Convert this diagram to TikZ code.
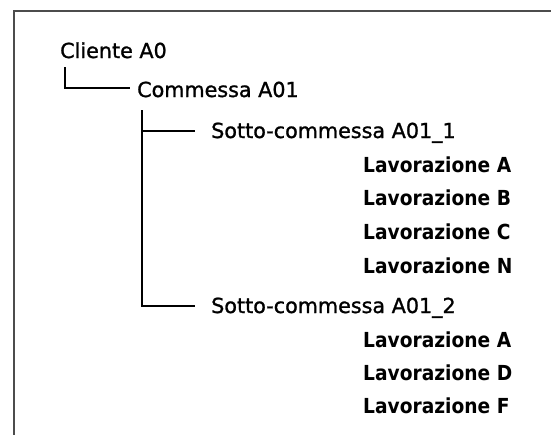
\documentclass[tikz,border=0pt]{standalone}
\usepackage{fontspec}
\setmainfont{DejaVu Sans}
\newfontfamily\treefont{DejaVu Sans}[FakeBold=1.2]
\newfontfamily\lavfont{DejaVu Sans}[FakeStretch=0.9]
\tikzset{
  level/.style={anchor=base west,inner sep=0pt,font=\fontsize{20.7}{24}\treefont},
  job/.style={level,font=\fontsize{20.7}{24}\lavfont\bfseries},
  branch/.style={line width=1.7pt},
  frame/.style={draw=black!70,line width=1.5pt}
}

\begin{document}
\begin{tikzpicture}[x=1pt,y=-1pt]
  % bounding box
  \useasboundingbox (0,0) rectangle (551,434);
  % Frame
  \draw[frame] (14,445) |- (560,11);
  % Client and order
  \node[level] (cliente) at (60,58) {Cliente A0};
  \node[level] (commessa) at (137,97) {Commessa A01};
  % Sub-orders
  \node[level] (sotto1) at (211,138) {Sotto-commessa A01\_1};
  \node[level] (sotto2) at (211,313) {Sotto-commessa A01\_2};
  % Work items
  \node[job] (lavA1) at (363,172) {Lavorazione A};
  \node[job] (lavB1) at (363,205) {Lavorazione B};
  \node[job] (lavC1) at (363,239) {Lavorazione C};
  \node[job] (lavN1) at (363,273) {Lavorazione N};
  \node[job] (lavA2) at (363,347) {Lavorazione A};
  \node[job] (lavD2) at (363,380) {Lavorazione D};
  \node[job] (lavF2) at (363,413) {Lavorazione F};
  % Connectors
  \draw[branch] ([xshift=5pt,yshift=-9pt]cliente.base west) |- ([xshift=-7pt,yshift=9pt]commessa.base west);
  \draw[branch] ([xshift=5pt,yshift=-13pt]commessa.base west) |- ([xshift=-16pt,yshift=7pt]sotto1.base west);
  \draw[branch] ([xshift=5pt,yshift=-13pt]commessa.base west) |- ([xshift=-16pt,yshift=7pt]sotto2.base west);
\end{tikzpicture}
\end{document}
